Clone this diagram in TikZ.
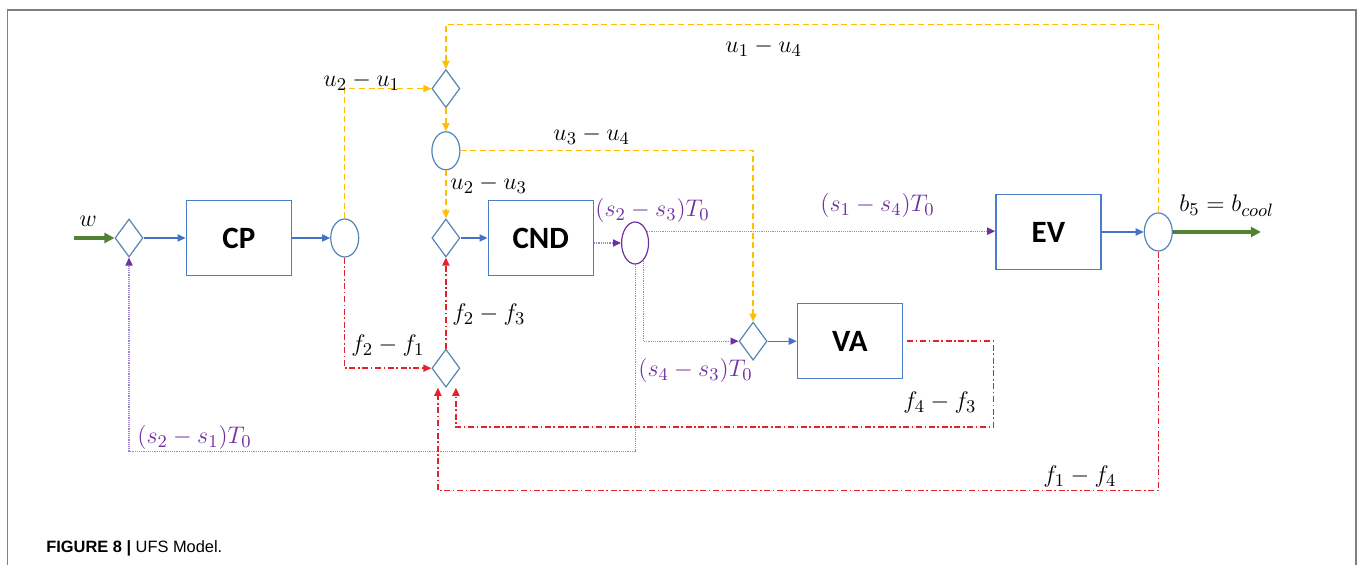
\documentclass[tikz,border=0pt]{standalone}
\usepackage{fontspec}
\newfontfamily\boxfont{Carlito}
\newfontfamily\capfont{Liberation Sans}
\usetikzlibrary{arrows.meta,positioning,shapes.geometric}
\definecolor{BoxBlue}{HTML}{4A7EC8}
\definecolor{FlowBlue}{HTML}{4472C4}
\definecolor{JunBlue}{HTML}{5584B4}
\definecolor{Gold}{HTML}{FFC000}
\definecolor{RedLine}{HTML}{E3222A}
\definecolor{Purple}{HTML}{7030A0}
\definecolor{PurpleLine}{HTML}{A282D6}
\definecolor{Leaf}{HTML}{548235}
\definecolor{FrameGray}{HTML}{808080}
\tikzset{
  unitbox/.style={draw=BoxBlue,line width=0.75pt,minimum width=52.5pt,minimum height=37.5pt,inner sep=0pt,font=\boxfont\bfseries\fontsize{15.5}{18}\selectfont},
  mixer/.style={draw=JunBlue,diamond,aspect=0.74,minimum width=14pt,minimum height=19pt,inner sep=0pt,line width=0.6pt},
  splitter/.style={draw=JunBlue,ellipse,minimum width=14pt,minimum height=19pt,inner sep=0pt,line width=0.6pt},
  flow/.style={-{Triangle[length=4pt,width=3.6pt]},draw=FlowBlue,line width=0.6pt},
  uflow/.style={-{Triangle[length=4pt,width=3.6pt]},draw=Gold,dash pattern=on 3pt off 1.8pt,line width=0.7pt},
  fflow/.style={-{Triangle[length=4pt,width=3.6pt]},draw=RedLine,dash pattern=on 3pt off 1.3pt on 0.8pt off 1.3pt,line width=0.7pt},
  sflow/.style={-{Triangle[length=4pt,width=3.6pt,color=Purple]},draw=PurpleLine,dash pattern=on 0.6pt off 0.5pt,line width=0.6pt},
  bflow/.style={-{Triangle[length=5pt,width=5pt]},draw=Leaf,line width=1.6pt},
  lbl/.style={anchor=base west,inner sep=0pt,font=\fontsize{12.5}{15}\selectfont},
  slbl/.style={lbl,text=Purple}
}
\begin{document}
\begin{tikzpicture}[x=0.5pt,y=0.5pt]
  \useasboundingbox (0,0) rectangle (1360,-565);
  \draw[FrameGray,line width=0.8pt] (7.5,-565) -- (7.5,-10) -- (1356,-10) -- (1356,-565);

  \node[mixer] (d1) at (129,-238) {};
  \node[unitbox,right=21pt of d1] (cp) {CP};
  \node[splitter,right=19pt of cp] (e1) {};
  \node[mixer,right=36pt of e1] (d3) {};
  \node[unitbox,right=13.5pt of d3] (cnd) {CND};
  \node[splitter,draw=Purple,minimum width=13.5pt,minimum height=21pt,right=13.5pt of cnd,yshift=-2.5pt] (e3) {};
  \node[unitbox,right=173pt of e3,yshift=5.5pt] (ev) {EV};
  \node[splitter,right=21pt of ev] (e4) {};
  \node[splitter,above=24pt of d3] (e2) {};
  \node[mixer,above=11.5pt of e2] (d2) {};
  \node[mixer,below=45.5pt of d3] (d5) {};
  \node[mixer,below=28.5pt of e3,xshift=59pt] (d4) {};
  \node[unitbox,right=14.5pt of d4] (va) {VA};
  \coordinate[left=20pt of d1] (win);
  \coordinate[right=44pt of e4] (bout);

  \draw[bflow] (win) -- (d1);
  \draw[flow] (d1) -- (cp);
  \draw[flow] (cp) -- (e1);
  \draw[flow] (d3) -- (cnd);
  \draw[flow] (ev) -- (e4);
  \draw[flow] (d4) -- (va);
  \draw[bflow] (e4) -- (bout);

  \draw[uflow] (e1.north) |- (d2.west);
  \draw[uflow] (e4.north) -- ++(0,188) -| (d2.north);
  \draw[uflow] (d2) -- (e2);
  \draw[uflow] (e2) -- (d3);
  \draw[uflow] (e2.east) -| (d4.north);

  \draw[sflow] (cnd.east |- e3.west) -- (e3.west);
  \draw[sflow] (e3.45) -- (e3.45 -| ev.west);
  \draw[sflow] (e3.-65) |- (d4.west);
  \draw[sflow] (e3.south) -- ++(0,-187) -| (d1.south);

  \draw[fflow] (e1.south) |- (d5.west);
  \draw[fflow] (d5) -- (d3);
  \draw[fflow] ([xshift=2pt]va.east) -| ++(86,-86) -| ([xshift=5pt]d5.south);
  \draw[fflow] (e4.south) -- ++(0,-239) -| ([xshift=-4pt]d5.south);

  \node[lbl] (lw) at (79,-227) {$w$};
  \node[lbl] (lu21) at (323,-87) {$u_2-u_1$};
  \node[lbl] (lu14) at (725,-53) {$u_1-u_4$};
  \node[lbl] (lu34) at (553,-141) {$u_3-u_4$};
  \node[lbl] (lu23) at (450,-190) {$u_2-u_3$};
  \node[slbl] (ls23) at (595,-217) {$(s_2-s_3)T_0$};
  \node[slbl] (ls14) at (820,-212) {$(s_1-s_4)T_0$};
  \node[lbl] (lb5) at (1179,-212) {$b_5=b_{cool}$};
  \node[lbl] (lf23) at (452,-321) {$f_2-f_3$};
  \node[lbl] (lf21) at (351,-352) {$f_2-f_1$};
  \node[slbl] (ls43) at (638,-377) {$(s_4-s_3)T_0$};
  \node[lbl] (lf43) at (903,-409) {$f_4-f_3$};
  \node[slbl] (ls21) at (137,-444) {$(s_2-s_1)T_0$};
  \node[lbl] (lf14) at (1043,-483) {$f_1-f_4$};

  \node[anchor=base west,inner sep=0pt,font=\capfont\fontsize{8.2}{10}\selectfont] (cap) at (46,-553) {\textbf{FIGURE 8 |} UFS Model.};
\end{tikzpicture}
\end{document}
